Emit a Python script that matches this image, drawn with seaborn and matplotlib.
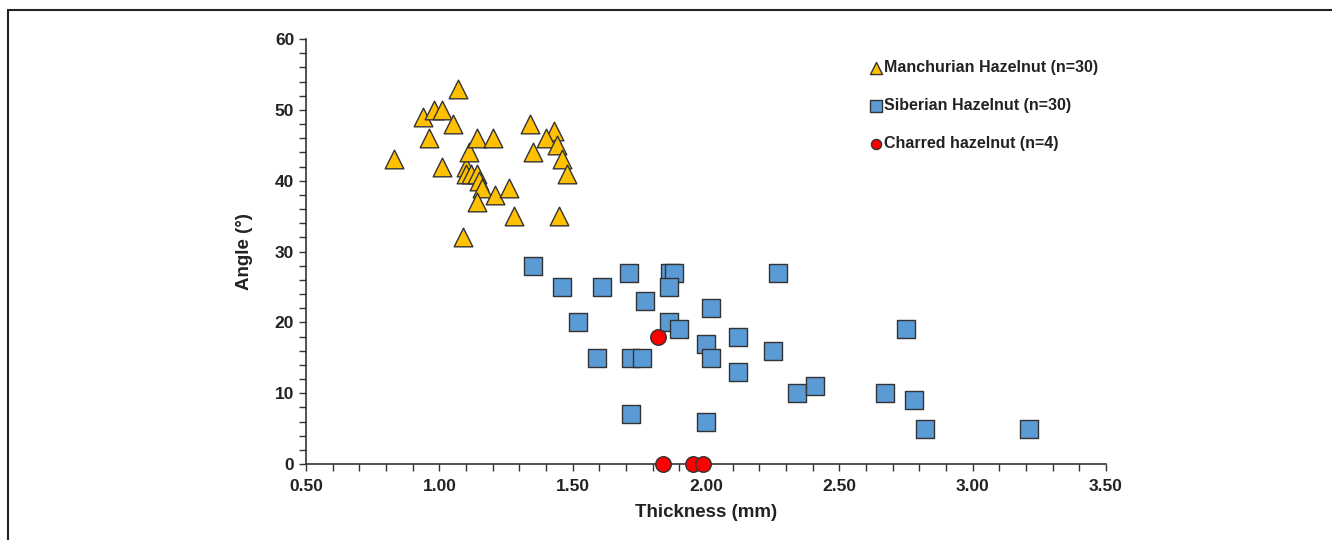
import matplotlib
matplotlib.use("Agg")
import matplotlib.pyplot as plt
import seaborn as sns
import pandas as pd
from matplotlib.lines import Line2D
from matplotlib.ticker import MultipleLocator

# values
manchurian_thick = [0.83, 0.94, 0.96, 0.98, 1.01, 1.01, 1.05, 1.07, 1.10, 1.11,
                    1.10, 1.12, 1.14, 1.15, 1.16, 1.21, 1.26, 1.14, 1.28, 1.09,
                    1.14, 1.20, 1.34, 1.35, 1.43, 1.40, 1.44, 1.46, 1.48, 1.45]
manchurian_angle = [43, 49, 46, 50, 50, 42, 48, 53, 42, 44,
                    41, 41, 41, 40, 39, 38, 39, 37, 35, 32,
                    46, 46, 48, 44, 47, 46, 45, 43, 41, 35]

siberian_thick = [1.35, 1.46, 1.61, 1.71, 1.865, 1.88, 1.86, 1.77, 2.02, 1.52,
                  1.86, 1.90, 2.27, 2.12, 2.00, 2.02, 2.25, 1.59, 1.72, 1.76,
                  2.12, 2.34, 1.72, 2.00, 2.75, 2.41, 2.67, 2.78, 2.82, 3.21]
siberian_angle = [28, 25, 25, 27, 27, 27, 25, 23, 22, 20,
                  20, 19, 27, 18, 17, 15, 16, 15, 15, 15,
                  13, 10, 7, 6, 19, 11, 10, 9, 5, 5]

charred_thick = [1.82, 1.84, 1.95, 1.99]
charred_angle = [18, 0, 0, 0]

labels = ["Manchurian Hazelnut (n=30)", "Siberian Hazelnut (n=30)",
          "Charred hazelnut (n=4)"]

sns.set_style("ticks")
plt.rcParams['font.family'] = ['Liberation Sans', 'DejaVu Sans']
plt.rcParams['font.weight'] = 'bold'

fig = plt.figure(figsize=(13.32, 5.40), dpi=100)
ax = fig.add_axes([306 / 1332, 1 - 464 / 540, 800 / 1332, 425 / 540])

groups = [
    (manchurian_thick, manchurian_angle, labels[0], "^", "#FFC000", 180),
    (siberian_thick, siberian_angle, labels[1], "s", "#5B9BD5", 155),
    (charred_thick, charred_angle, labels[2], "o", "#FF0000", 125),
]
for xs, ys, lab, mk, col, size in groups:
    df = pd.DataFrame({"thickness": xs, "angle": ys})
    sns.scatterplot(data=df, x="thickness", y="angle", marker=mk, color=col,
                    s=size, edgecolor="#333333", linewidth=1.0, label=lab,
                    ax=ax, clip_on=False, zorder=3)

ax.set_xlim(0.5, 3.5)
ax.set_ylim(0, 60)
ax.xaxis.set_major_locator(MultipleLocator(0.5))
ax.xaxis.set_minor_locator(MultipleLocator(0.1))
ax.yaxis.set_major_locator(MultipleLocator(10))
ax.yaxis.set_minor_locator(MultipleLocator(2))
ax.xaxis.set_major_formatter(lambda v, p: f"{v:.2f}")
ax.tick_params(axis="both", which="both", direction="out", length=5,
               width=1, color="#333333", labelsize=12.5, labelcolor="#222222")
ax.tick_params(axis="x", pad=6)
for lbl in ax.get_xticklabels() + ax.get_yticklabels():
    lbl.set_fontweight("bold")

sns.despine(ax=ax)
for side in ("left", "bottom"):
    ax.spines[side].set_color("#333333")
    ax.spines[side].set_linewidth(1.2)

ax.set_xlabel("Thickness (mm)", fontsize=13.5, fontweight="bold", color="#222222",
              labelpad=7)
ax.set_ylabel("Angle (°)", fontsize=13.5, fontweight="bold", color="#222222",
              labelpad=16)

leg = ax.legend(loc="upper left", bbox_to_anchor=(0.698, 0.966), frameon=False,
                fontsize=11.5, markerscale=0.65, handlelength=0.6,
                handletextpad=0.25, labelspacing=1.45, borderaxespad=0)
for t in leg.get_texts():
    t.set_fontweight("bold")
    t.set_color("#222222")

# outer frame lines of the original picture
fig.add_artist(Line2D([8 / 1332, 1.0], [1 - 9.5 / 540, 1 - 9.5 / 540],
                      transform=fig.transFigure, color="#222222", linewidth=1.5))
fig.add_artist(Line2D([8 / 1332, 8 / 1332], [0.0, 1 - 9.5 / 540],
                      transform=fig.transFigure, color="#222222", linewidth=1.5))

fig.savefig("out.png", dpi=100)
